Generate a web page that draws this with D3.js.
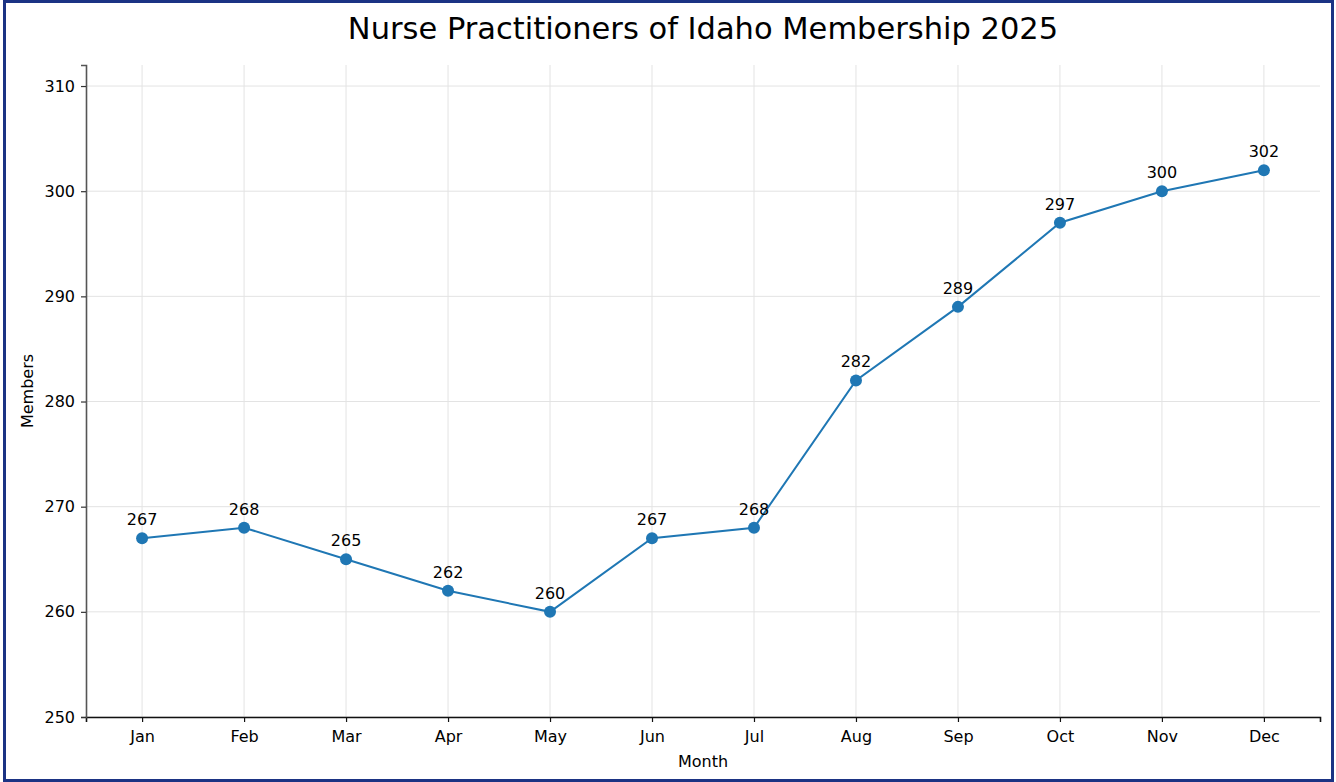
<!DOCTYPE html>
<html lang="en">
<head>
<meta charset="UTF-8"/>
<title>Nurse Practitioners of Idaho Membership 2025</title>
<script src="https://d3js.org/d3.v7.min.js"></script>
<style>
    body { margin: 0; background: #fff; }
    svg text { font-family: "DejaVu Sans", sans-serif; fill: #000; }
</style>
</head>
<body>
<script>
    var months = ["Jan","Feb","Mar","Apr","May","Jun","Jul","Aug","Sep","Oct","Nov","Dec"];
    var members = [267,268,265,262,260,267,268,282,289,297,300,302];
    var yTicks = [250,260,270,280,290,300,310];

    var w = 1336, h = 782;
    var plotLeft = 86, plotRight = 1320, plotTop = 65, plotBottom = 717;

    var svg = d3.select("body").append("svg")
        .attr("width", w)
        .attr("height", h);

    // outer frame
    svg.append("rect")
        .attr("x", 4.5).attr("y", 1.5)
        .attr("width", 1328).attr("height", 779)
        .attr("fill", "none")
        .attr("stroke", "#1b3384")
        .attr("stroke-width", 3);

    var xScale = d3.scalePoint()
        .domain(months)
        .range([plotLeft, plotRight])
        .padding(0.55);

    var yScale = d3.scaleLinear()
        .domain([250, 312])
        .range([plotBottom, plotTop]);

    // grid
    svg.append("g").selectAll("line")
        .data(yTicks)
        .enter().append("line")
        .attr("x1", plotLeft).attr("x2", plotRight)
        .attr("y1", function(d){ return yScale(d); })
        .attr("y2", function(d){ return yScale(d); })
        .attr("stroke", "#e3e3e3").attr("stroke-width", 1);

    svg.append("g").selectAll("line")
        .data(months)
        .enter().append("line")
        .attr("x1", function(d){ return xScale(d); })
        .attr("x2", function(d){ return xScale(d); })
        .attr("y1", plotTop).attr("y2", plotBottom)
        .attr("stroke", "#e3e3e3").attr("stroke-width", 1);

    // axes
    var xAxis = svg.append("g")
        .attr("transform", "translate(0," + plotBottom + ")")
        .call(d3.axisBottom(xScale).tickSizeOuter(0).tickSize(5).tickPadding(9));
    xAxis.select(".domain").attr("stroke", "#111").attr("stroke-width", 1.6);
    xAxis.selectAll(".tick line").attr("stroke", "#111").attr("stroke-width", 1.2);
    xAxis.selectAll("text").attr("font-size", 16).attr("font-family", "DejaVu Sans");

    var yAxis = svg.append("g")
        .attr("transform", "translate(" + plotLeft + ",0)")
        .call(d3.axisLeft(yScale).tickValues(yTicks).tickSizeOuter(0).tickSize(5).tickPadding(6));
    yAxis.select(".domain").attr("stroke", "#555").attr("stroke-width", 1.6);
    yAxis.selectAll(".tick line").attr("stroke", "#333").attr("stroke-width", 1.2);
    yAxis.selectAll("text").attr("font-size", 16).attr("font-family", "DejaVu Sans");

    // line and points
    var line = d3.line()
        .x(function(d, i){ return xScale(months[i]); })
        .y(function(d){ return yScale(d); });

    svg.append("path")
        .datum(members)
        .attr("d", line)
        .attr("fill", "none")
        .attr("stroke", "#1f77b4")
        .attr("stroke-width", 2);

    svg.selectAll("circle")
        .data(members)
        .enter().append("circle")
        .attr("cx", function(d, i){ return xScale(months[i]); })
        .attr("cy", function(d){ return yScale(d); })
        .attr("r", 6)
        .attr("fill", "#1f77b4");

    svg.selectAll("text.val")
        .data(members)
        .enter().append("text")
        .attr("class", "val")
        .attr("x", function(d, i){ return xScale(months[i]); })
        .attr("y", function(d){ return yScale(d) - 13; })
        .attr("text-anchor", "middle")
        .attr("font-size", 16)
        .text(function(d){ return d; });

    // titles
    svg.append("text")
        .attr("x", (plotLeft + plotRight) / 2).attr("y", 39)
        .attr("text-anchor", "middle")
        .attr("font-size", 30.5)
        .text("Nurse Practitioners of Idaho Membership 2025");

    svg.append("text")
        .attr("x", (plotLeft + plotRight) / 2).attr("y", 767)
        .attr("text-anchor", "middle")
        .attr("font-size", 16)
        .text("Month");

    svg.append("text")
        .attr("transform", "translate(33," + (plotTop + plotBottom) / 2 + ") rotate(-90)")
        .attr("text-anchor", "middle")
        .attr("font-size", 16)
        .text("Members");
</script>
</body>
</html>
